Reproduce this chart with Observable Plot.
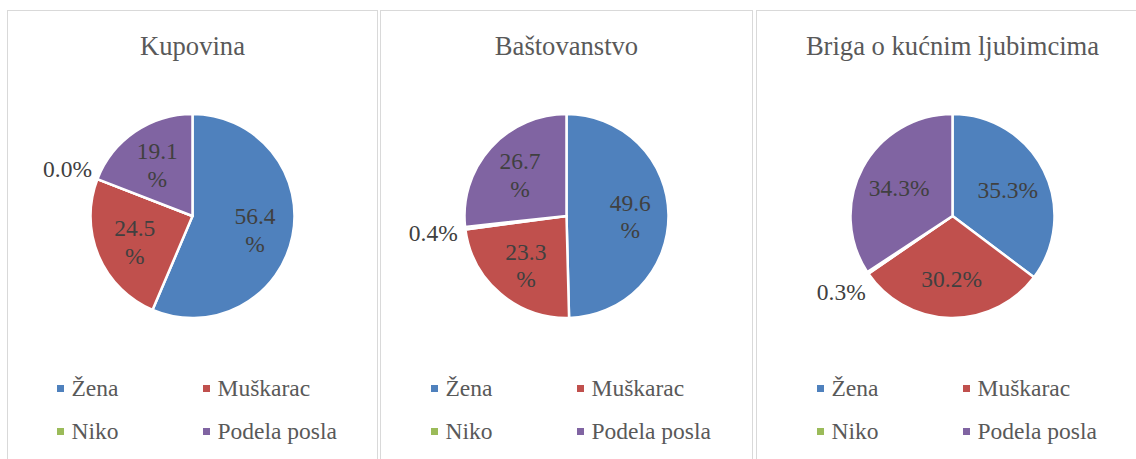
<!DOCTYPE html>
<html><head><meta charset="utf-8">
<script src="https://cdn.jsdelivr.net/npm/d3@7"></script>
<script src="https://cdn.jsdelivr.net/npm/@observablehq/plot@0.6"></script>
<style>
body{margin:0;background:#fff;width:1136px;height:459px;overflow:hidden;position:relative;font-family:'Liberation Serif','Times New Roman',serif;}
.panel{position:absolute;top:10px;height:470px;border:1px solid #d9d9d9;box-sizing:border-box;background:#fff;font-family:'Liberation Serif';}
.title{position:absolute;top:20px;left:0;right:0;text-align:center;font-size:26.6px;line-height:30px;color:#595959;white-space:nowrap;font-family:'Liberation Serif';}
.plot{position:absolute;top:75px;left:0;}
.legend{position:absolute;top:356px;display:grid;grid-template-columns:146px 140px;font-size:23.5px;line-height:43px;color:#595959;font-family:'Liberation Serif';}
.item{display:flex;align-items:center;white-space:nowrap;}
.sw{width:7px;height:7px;margin-right:8px;flex:none;}
</style></head><body>
<script>
const categories = ["Žena", "Muškarac", "Niko", "Podela posla"];
const colors = ["#4F81BD", "#C0504D", "#9BBB59", "#8064A2"];
const titles = ["Kupovina", "Baštovanstvo", "Briga o kućnim ljubimcima"];
const kupovina = [56.4, 24.5, 0.0, 19.1];
const bastovanstvo = [49.6, 23.3, 0.4, 26.7];
const brigaOLjubimcima = [35.3, 30.2, 0.3, 34.3];

const series = [kupovina, bastovanstvo, brigaOLjubimcima];
const layout = [
  {left: 7, width: 371, wrap: true},
  {left: 380, width: 373, wrap: true},
  {left: 756, width: 393, wrap: false}
];
const R = 102, H = 260, CY = 130;

function pieRender(rows) {
  return function(index, scales) {
    const cx = scales.x(0), cy = scales.y(0), r = scales.x(1) - scales.x(0);
    const color = scales.color ?? d3.scaleOrdinal(categories, colors);
    const arc = d3.arc().innerRadius(0).outerRadius(r);
    const g = d3.create("svg:g").attr("transform", `translate(${cx},${cy})`);
    g.selectAll("path").data(rows).join("path")
      .attr("d", d => arc({startAngle: d.a0, endAngle: d.a1}))
      .attr("fill", d => color(d.category))
      .attr("stroke", "#fff").attr("stroke-width", 2.5).attr("stroke-linejoin", "round");
    return g.node();
  };
}

series.forEach((values, i) => {
  const L = layout[i];
  const panel = document.createElement("div");
  panel.className = "panel";
  panel.style.left = L.left + "px";
  panel.style.width = L.width + "px";
  document.body.appendChild(panel);

  const t = document.createElement("div");
  t.className = "title";
  t.textContent = titles[i];
  panel.appendChild(t);

  const w = L.width - 2;
  const arcs = d3.pie().sort(null).value(d => d.value)(categories.map((c, j) => ({category: c, value: values[j]})));
  const rows = arcs.map(a => {
    const m = (a.startAngle + a.endAngle) / 2;
    const inside = a.data.value >= 1;
    const k = inside ? (L.wrap ? 0.62 : 0.6) : 1.32;
    return {
      category: a.data.category, value: a.data.value,
      a0: a.startAngle, a1: a.endAngle,
      lx: k * Math.sin(m), ly: k * Math.cos(m),
      label: a.data.value.toFixed(1) + (L.wrap && inside ? "\n%" : "%")
    };
  });

  const chart = Plot.plot({
    width: w, height: H,
    margin: 0,
    x: {domain: [-1, 1], range: [w / 2 - R, w / 2 + R], axis: null},
    y: {domain: [-1, 1], range: [CY + R, CY - R], axis: null},
    color: {domain: categories, range: colors},
    style: {background: "transparent", overflow: "visible", fontFamily: "Liberation Serif"},
    marks: [
      Plot.dot(rows, {x: () => 0, y: () => 0, fill: "category", r: 0}),
      pieRender(rows),
      Plot.text(rows, {x: "lx", y: "ly", text: "label", fontSize: 23.5, fontFamily: "Liberation Serif", fill: "#404040", lineHeight: 1.18})
    ]
  });
  const holder = document.createElement("div");
  holder.className = "plot";
  holder.appendChild(chart);
  panel.appendChild(holder);

  const leg = document.createElement("div");
  leg.className = "legend";
  leg.style.left = (w / 2 - 136) + "px";
  categories.forEach((c, j) => {
    const it = document.createElement("div");
    it.className = "item";
    const sw = document.createElement("span");
    sw.className = "sw";
    sw.style.background = colors[j];
    const tx = document.createElement("span");
    tx.textContent = c;
    it.appendChild(sw); it.appendChild(tx);
    leg.appendChild(it);
  });
  panel.appendChild(leg);
});
</script>
</body></html>
